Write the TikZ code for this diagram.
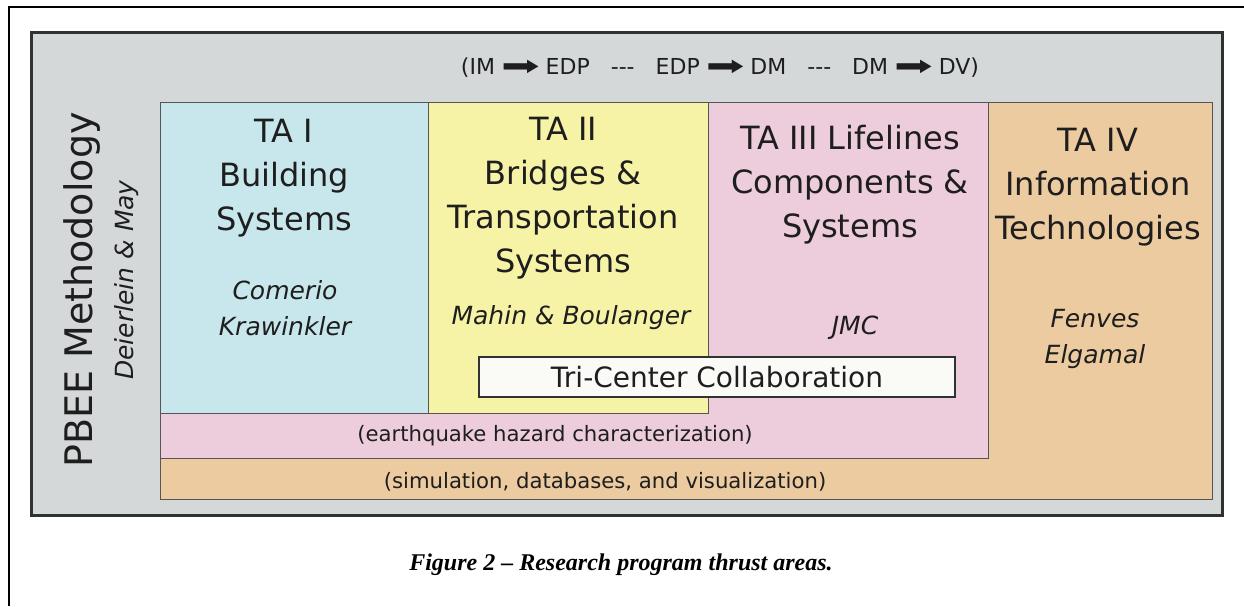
\documentclass[tikz,border=0pt]{standalone}
\usepackage{fontspec}
\setmainfont{DejaVu Sans}
\newfontfamily\capfont{Liberation Serif}
\definecolor{panel}{HTML}{D5D8D9}
\definecolor{panelline}{HTML}{2E3233}
\definecolor{bluec}{HTML}{C8E7EC}
\definecolor{yellowc}{HTML}{F7F3A6}
\definecolor{pinkc}{HTML}{EDCDDC}
\definecolor{orangec}{HTML}{EDCBA0}
\definecolor{tric}{HTML}{FAFBF7}
\definecolor{boxline}{HTML}{555555}
\definecolor{txt}{HTML}{1E1E1E}
\newcommand\bigarr{\hspace{6pt}\raisebox{-0.5pt}{\scalebox{2.1}[1.25]{➡}}\hspace{6pt}}
\newcommand\dashgap{\hspace{21pt}-{}-{}-\hspace{21pt}}
\begin{document}
\begin{tikzpicture}[x=1pt,y=-1pt,
  box/.style={draw=boxline, line width=1pt},
  head/.style={inner sep=0pt, font=\fontsize{32}{44}\selectfont, text=txt, align=center},
  names/.style={inner sep=0pt, font=\fontsize{25}{36}\selectfont\itshape, text=txt, align=center},
  bartext/.style={inner sep=0pt, font=\fontsize{21.2}{24}\selectfont, text=txt}]
\useasboundingbox (0,0) rectangle (1244,606);
\fill[white] (0,0) rectangle (1244,606);
\draw[line width=2pt] (9,606) -- (9,7) -- (1244,7);
% panel
\draw[fill=panel, draw=panelline, line width=3pt] (31,32) rectangle (1222,515);
% boxes
\draw[box, fill=orangec] (160,102) rectangle (1212,499);
\draw[box, fill=pinkc] (160,102) rectangle (988,458);
\draw[box, fill=bluec] (160,102) rectangle (428,413);
\draw[box, fill=yellowc] (428,102) rectangle (708,413);
\draw[fill=tric, draw=panelline, line width=1.5pt] (479,357) rectangle (955,397);
% top text
\node[inner sep=0pt, font=\fontsize{22}{26}\selectfont, text=txt] (chain) at (720,68) {(IM\bigarr EDP\dashgap EDP\bigarr DM\dashgap DM\bigarr DV)};
% side texts
\node[inner sep=0pt, font=\fontsize{38}{42}\selectfont, text=txt, rotate=90] (pbee) at (82,290) {PBEE Methodology};
\node[inner sep=0pt, font=\fontsize{25}{30}\selectfont\itshape, text=txt, rotate=90] (dm) at (127,280) {Deierlein \& May};
% headings
\node[head] (ta1) at (284,178) {TA I\\Building\\Systems};
\node[head] (ta2) at (563,198) {TA II\\Bridges \&\\Transportation\\Systems};
\node[head] (ta3) at (850,185) {TA III Lifelines\\Components \&\\Systems};
\node[head] (ta4) at (1098,187) {TA IV\\Information\\Technologies};
% names
\node[names] (n1) at (285,308) {Comerio\\Krawinkler};
\node[names] (n2) at (571,318) {Mahin \& Boulanger};
\node[names] (n3) at (855,328) {JMC};
\node[names] (n4) at (1095,339) {Fenves\\Elgamal};
% tri-center
\node[inner sep=0pt, font=\fontsize{28}{32}\selectfont, text=txt] (tri) at (717,377) {Tri-Center Collaboration};
% bars
\node[bartext] (eq) at (555,436) {(earthquake hazard characterization)};
\node[bartext] (sim) at (605,482) {(simulation, databases, and visualization)};
% caption
\node[inner sep=0pt, font=\capfont\fontsize{24}{28}\selectfont\bfseries\itshape] (cap) at (621,565) {Figure 2 – Research program thrust areas.};
\end{tikzpicture}
\end{document}
